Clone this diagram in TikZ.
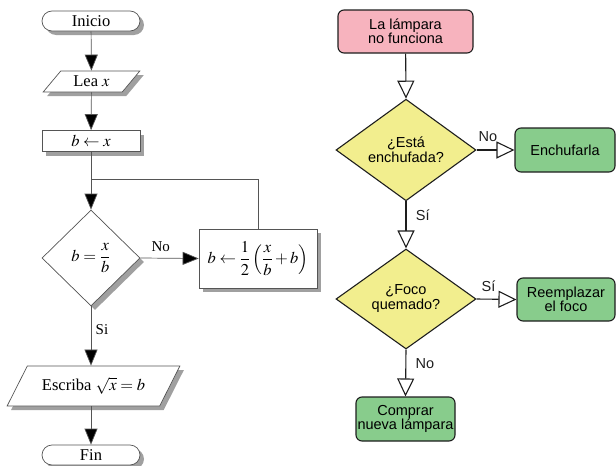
\documentclass[tikz,border=0pt]{standalone}
\usepackage{amsmath}
\usepackage{mathptmx}
\usepackage{fontspec}
\setmainfont{Liberation Serif}
\newfontfamily\rsans{Liberation Sans}
\usetikzlibrary{shapes.geometric,shapes.misc,arrows.meta,shadows}
\definecolor{lline}{HTML}{555555}
\definecolor{shd}{HTML}{A0A0A0}
\definecolor{rline}{HTML}{1E1E1E}
\definecolor{pinkf}{HTML}{F7B3BE}
\definecolor{yelf}{HTML}{F2EE8E}
\definecolor{grnf}{HTML}{88CC8C}
\begin{document}
\begin{tikzpicture}[x=1pt,y=-1pt,
  lshadow/.style={copy shadow={shadow xshift=4pt,shadow yshift=-4pt,fill=shd,draw=none}},
  lbox/.style={draw=lline,line width=0.7pt,fill=white,lshadow,font=\fontsize{16.5}{18}\selectfont,inner sep=1pt},
  lterm/.style={lbox,rounded corners=10pt,minimum width=98pt,minimum height=20pt},
  lrect/.style={lbox,rectangle,minimum width=98pt,minimum height=21pt},
  lpara/.style={lbox,trapezium,trapezium left angle=50,trapezium right angle=130,trapezium stretches=true},
  ldia/.style={lbox,diamond,minimum width=98pt,minimum height=96pt,inner sep=0pt},
  larr/.style={draw=lline,line width=0.7pt,-{Triangle[length=16pt,width=13pt,fill=black]}},
  lline/.style={draw=lline,line width=0.7pt},
  llab/.style={font=\fontsize{15}{17}\selectfont},
  rbox/.style={draw=rline,line width=1.1pt,rounded corners=6pt,font=\rsans\fontsize{14.5}{16}\selectfont,align=center,inner sep=1pt},
  rdia/.style={draw=rline,line width=1.1pt,diamond,fill=yelf,minimum width=140pt,minimum height=100pt,inner sep=0pt,font=\rsans\fontsize{14.5}{16}\selectfont,align=center},
  rarr/.style={draw=rline,line width=1.1pt,-{Triangle[open,length=18pt,width=17pt,fill=white,line width=1.1pt]}},
  rlab/.style={font=\rsans\fontsize{14.5}{16}\selectfont,text=rline}]
\useasboundingbox (0,0) rectangle (616,466);
% ---- left flowchart ----
\node[lterm] (ini) at (91,21) {Inicio};
\node[lpara,minimum width=97pt,minimum height=21pt] (lea) at (91.5,81.5) {Lea $x$};
\node[lrect] (bx) at (91,141) {$b\leftarrow x$};
\node[ldia] (eq) at (91,258) {$b=\dfrac{x}{b}$};
\node[lrect,minimum width=118pt,minimum height=59pt] (upd) at (258,258.5) {$b\leftarrow\dfrac{1}{2}\left(\dfrac{x}{b}+b\right)$};
\node[lpara,minimum width=173pt,minimum height=40pt] (out) at (93.5,386) {Escriba $\sqrt{x}=b$};
\node[lterm] (fin) at (91,455) {Fin};
\coordinate (J) at (91,179);
\draw[larr] (ini) -- (lea);
\draw[larr] (lea) -- (bx);
\draw[lline] (bx.south) -- (J);
\draw[larr] (J) -- (eq.north);
\draw[lline] (upd.north) |- (J);
\draw[larr] (eq.east) -- node[llab,above=3pt,pos=0.35] {No} (upd.west);
\draw[larr] (eq.south) -- node[llab,right=1pt,pos=0.4] {Si} (out.north -| eq.south);
\draw[larr] (out.south -| fin.north) -- (fin.north);
% ---- right flowchart ----
\node[rbox,fill=pinkf,minimum width=135pt,minimum height=43pt] (lamp) at (405.5,31.5) {La lámpara\\[-2pt]no funciona};
\node[rdia] (q1) at (406,150) {¿Está\\[-1pt]enchufada?};
\node[rdia] (q2) at (406,299) {¿Foco\\[-1pt]quemado?};
\node[rbox,fill=grnf,minimum width=100pt,minimum height=44pt] (ench) at (565,150) {Enchufarla};
\node[rbox,fill=grnf,minimum width=98pt,minimum height=43pt] (reem) at (566,299.5) {Reemplazar\\[-2pt]el foco};
\node[rbox,fill=grnf,minimum width=99pt,minimum height=44pt] (comp) at (405.5,419) {Comprar\\[-2pt]nueva lámpara};
\draw[rarr] (lamp) -- (q1.north);
\draw[rarr] (q1.east) -- node[rlab,pos=0.3,above=4pt] {No} (ench.west);
\draw[rarr] (q1.south) -- node[rlab,pos=0.3,right=6pt] {Sí} (q2.north);
\draw[rarr] (q2.east) -- node[rlab,pos=0.3,above=4pt] {Sí} (reem.west);
\draw[rarr] (q2.south) -- node[rlab,pos=0.3,right=6pt] {No} (comp.north);
\end{tikzpicture}
\end{document}
